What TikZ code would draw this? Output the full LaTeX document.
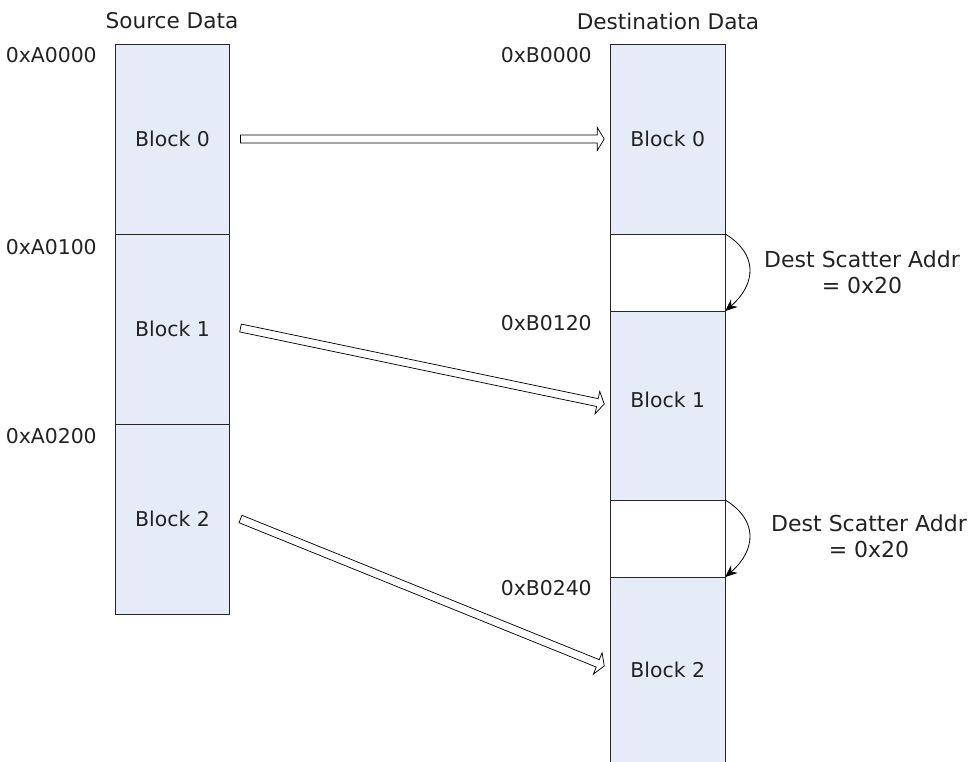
\documentclass[tikz,border=0pt]{standalone}
\usepackage{fontspec}
\setmainfont{DejaVu Sans}
\usetikzlibrary{calc,arrows.meta}
\definecolor{blockfill}{RGB}{230,236,247}
\definecolor{txt}{RGB}{34,34,34}
\tikzset{
  lbl/.style={text=txt, inner sep=0pt, font=\fontsize{15.3pt}{18pt}\selectfont},
  ttl/.style={text=txt, inner sep=0pt, font=\fontsize{16.2pt}{19pt}\selectfont},
  scat/.style={text=txt, inner sep=0pt, align=center, font=\fontsize{16.5pt}{19.5pt}\selectfont},
  memblock/.style={lbl, draw=black!85, line width=0.6pt, fill=blockfill, minimum width=85.5pt, minimum height=142.5pt, outer sep=0pt},
  dstblock/.style={memblock, minimum width=86.25pt},
  gapblock/.style={draw=black!85, line width=0.6pt, fill=white, minimum width=86.25pt, minimum height=57.75pt, inner sep=0pt, outer sep=0pt},
  hop/.style={line width=0.6pt, black, -{Stealth[length=9pt,width=7.5pt]}},
  bigarrow/.style={draw=black, fill=white, line width=0.55pt, line join=miter}
}
\newcommand\hollowarrow[2]{%
  \coordinate (#1h) at ($(#2)!5.25pt!(#1)$);
  \draw[bigarrow] ($(#1)!3pt!90:(#2)$) -- ($(#1h)!3pt!-90:(#1)$)
     -- ($(#1h)!8.6pt!-90:(#1)$) -- (#2) -- ($(#1h)!8.6pt!90:(#1)$)
     -- ($(#1h)!3pt!90:(#1)$) -- ($(#1)!3pt!-90:(#2)$) -- cycle;
}
\begin{document}
\begin{tikzpicture}[x=0.75pt, y=-0.75pt]
\useasboundingbox (0,0) rectangle (973,762);
% source column
\node[memblock] (src0) at (172.5,139) {Block 0};
\node[memblock] (src1) at (172.5,329) {Block 1};
\node[memblock] (src2) at (172.5,519) {Block 2};
% destination column
\node[dstblock] (dst0) at (667.75,139) {Block 0};
\node[gapblock] (gap1) at (667.75,272.5) {};
\node[dstblock, minimum height=141.75pt] (dst1) at (667.75,405.5) {};
\node[lbl] (dst1t) at (667.75,400) {Block 1};
\node[gapblock] (gap2) at (667.75,538.5) {};
\node[memblock, draw=none, minimum width=86.25pt, minimum height=138.75pt] (dst2) at (667.75,669.5) {};
\node[lbl] (dst2t) at (667.75,670) {Block 2};
\draw[line width=0.6pt, black!85] (dst2.south west) -- (dst2.north west) -- (dst2.north east) -- (dst2.south east);
% titles
\node[ttl] (tsrc) at (172,21) {Source Data};
\node[ttl] (tdst) at (668,21) {Destination Data};
% address labels
\node[lbl, anchor=east] (a0) at (97,55) {0xA0000};
\node[lbl, anchor=east] (a1) at (97,247) {0xA0100};
\node[lbl, anchor=east] (a2) at (97,436) {0xA0200};
\node[lbl, anchor=east] (b0) at (592,55) {0xB0000};
\node[lbl, anchor=east] (b1) at (592,323) {0xB0120};
\node[lbl, anchor=east] (b2) at (592,588) {0xB0240};
% scatter hops
\draw[hop] (gap1.north east) .. controls ($(gap1.north east)+(33,20)$) and ($(gap1.south east)+(31,-27)$) .. (gap1.south east);
\draw[hop] (gap2.north east) .. controls ($(gap2.north east)+(33,20)$) and ($(gap2.south east)+(31,-27)$) .. (gap2.south east);
\node[scat] (sc1) at (862,272) {Dest Scatter Addr\\= 0x20};
\node[scat] (sc2) at (869,536) {Dest Scatter Addr\\= 0x20};
% transfer arrows
\coordinate (s0) at ($(src0.east)+(11,0)$);
\coordinate (t0) at ($(dst0.west)+(-6,0)$);
\coordinate (s1) at ($(src1.east)+(11,-1)$);
\coordinate (t1) at ($(dst1.west)+(-6,-1.5)$);
\coordinate (s2) at ($(src2.east)+(11,0)$);
\coordinate (t2) at ($(dst2.west)+(-6,-3.5)$);
\hollowarrow{s0}{t0}
\hollowarrow{s1}{t1}
\hollowarrow{s2}{t2}
\end{tikzpicture}
\end{document}
